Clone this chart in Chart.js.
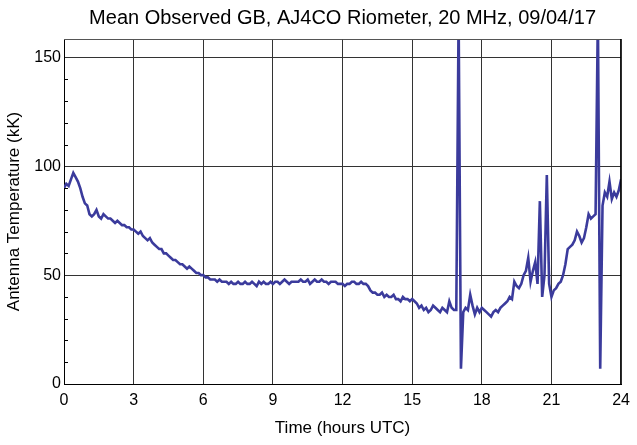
<!DOCTYPE html>
<html><head><meta charset="utf-8">
<script src="https://cdn.jsdelivr.net/npm/chart.js@4"></script>
<style>html,body{margin:0;padding:0;background:#fff}#wrap{width:637px;height:445px}</style>
</head><body><div id="wrap"><canvas id="c" width="637" height="445"></canvas></div>
<script>
const titleText = 'Mean Observed GB, AJ4CO Riometer, 20 MHz, 09/04/17';
const xTitle = 'Time (hours UTC)';
const yTitle = 'Antenna Temperature (kK)';
const xTicks = [0,3,6,9,12,15,18,21,24];
const yTickLabels = [0,50,100,150];
const sampleStepHours = 0.1;
// Antenna temperature (kK), one value per 0.1 h from 0 to 24 h UTC
const temperature = [
 90,92,91,94,97,95,93,90,86,83,
 82,78,77,78,80,77,76,78,77,76,
 76,75,74,75,74,73,73,72,72,71,
 71,70,69,70,68,67,66,67,65,64,
 63,62,62,60,60,59,58,57,57,56,
 55,55,54,53,54,53,52,51,51,50,
 50,49,49,48,48,48,47,48,47,47,
 47,46,47,46,46,47,46,46,47,46,
 46,47,46,45,47,46,47,46,46,47,
 46,47,47,46,47,48,47,46,47,47,
 47,47,48,47,47,48,46,47,48,47,
 47,48,47,47,46,47,47,47,46,46,
 46,45,46,46,47,47,46,46,47,46,
 46,45,43,42,42,41,41,42,40,41,
 40,40,41,39,39,38,40,39,39,38,
 39,38,37,35,36,34,35,33,34,36,
 35,34,33,35,34,33,38,35,34,34,
 170,7,33,35,34,41,36,32,35,33,
 35,34,33,32,31,33,34,33,35,36,
 37,38,40,39,47,45,44,46,50,52,
 58,47,52,56,46,84,40,50,96,46,
 40,43,44,46,47,50,55,62,63,64,
 66,70,68,65,67,72,78,76,77,78,
 170,7,82,88,86,93,85,88,86,89,
 94
];
const points = temperature.map((v,i)=>({x: +(i*sampleStepHours).toFixed(2), y: v}));
const FONT = 'Liberation Sans, Arial, sans-serif';

const frame = {
  id:'frame',
  afterDraw(chart){
    const {ctx, chartArea:a, scales:{y}} = chart;
    ctx.save();
    ctx.strokeStyle='#000'; ctx.lineWidth=1;
    for(let v=10; v<=150; v+=10){
      if(v%50===0) continue;
      const py = Math.round(y.getPixelForValue(v))+0.5;
      ctx.beginPath(); ctx.moveTo(a.left, py); ctx.lineTo(a.left+4, py); ctx.stroke();
    }
    ctx.strokeStyle='#555';
    ctx.beginPath(); ctx.moveTo(a.left, a.top+0.5); ctx.lineTo(a.right, a.top+0.5); ctx.stroke();
    ctx.strokeStyle='#000';
    ctx.beginPath(); ctx.moveTo(a.right-0.5, a.top); ctx.lineTo(a.right-0.5, a.bottom); ctx.stroke();
    ctx.fillStyle='#000';
    ctx.font = '20px ' + FONT;
    ctx.textAlign='center'; ctx.textBaseline='alphabetic';
    ctx.fillText(titleText, (a.left+a.right)/2, 24);
    ctx.restore();
  }
};

new Chart(document.getElementById('c'), {
  type:'line',
  data:{datasets:[{data:points, borderColor:'#3b3b9c', borderWidth:2.6, pointRadius:0, tension:0, fill:false}]},
  options:{
    responsive:false, animation:false, devicePixelRatio:1,
    layout:{padding:{left:0,right:15,top:39,bottom:0}},
    plugins:{ legend:{display:false}, tooltip:{enabled:false}, title:{display:false} },
    scales:{
      x:{type:'linear', min:0, max:24,
        afterBuildTicks(s){ s.ticks = xTicks.map(v=>({value:v})); },
        afterFit(s){ s.height = 61; },
        ticks:{color:'#000', font:{family:FONT, size:16}, padding:7, maxRotation:0},
        grid:{color:'#333', lineWidth:1, drawTicks:false},
        border:{color:'#000', width:1},
        title:{display:true, text:xTitle, color:'#000', font:{family:FONT, size:17}, padding:{top:4,bottom:6}}
      },
      y:{type:'linear', min:0, max:158.5,
        afterBuildTicks(s){ s.ticks = yTickLabels.map(v=>({value:v})); },
        afterFit(s){ s.width = 64; },
        ticks:{color:'#000', font:{family:FONT, size:16}, padding:3},
        grid:{color:'#333', lineWidth:1, drawTicks:false},
        border:{color:'#000', width:1},
        title:{display:true, text:yTitle, color:'#000', font:{family:FONT, size:17}, padding:{top:4,bottom:4}}
      }
    }
  },
  plugins:[frame]
});
</script></body></html>
